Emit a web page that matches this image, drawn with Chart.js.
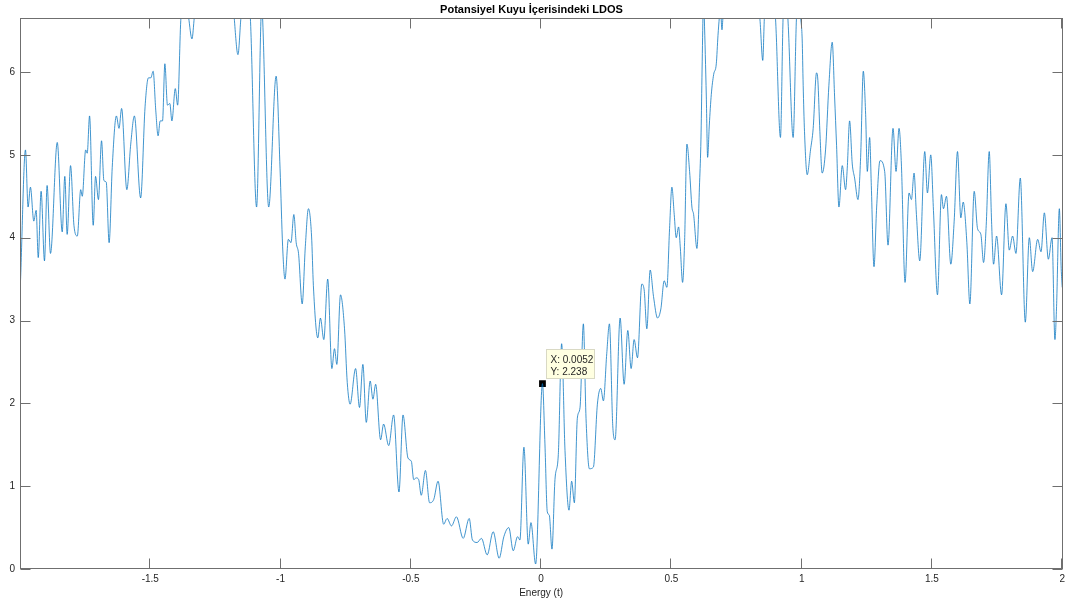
<!DOCTYPE html>
<html>
<head>
    <title>Potansiyel Kuyu İçerisindeki LDOS</title>
    <script src="https://cdn.jsdelivr.net/npm/chart.js"></script>
    <style>
        html, body { margin: 0; padding: 0; background: #fff; }
    </style>
</head>
<body>
    <canvas id="ldosChart" width="1069" height="606"></canvas>
    <script>
        // Energy (t) values
        const energy = [
            -1.998, -1.979, -1.969, -1.960, -1.947, -1.938, -1.930, -1.919, -1.906, -1.896,
            -1.883, -1.857, -1.838, -1.828, -1.819, -1.806, -1.793, -1.780, -1.767, -1.761,
            -1.748, -1.742, -1.733, -1.719, -1.710, -1.699, -1.687, -1.678, -1.669, -1.658,
            -1.646, -1.630, -1.620, -1.610, -1.590, -1.575, -1.561, -1.537, -1.520,
            -1.507, -1.498, -1.489, -1.479, -1.470, -1.462, -1.453, -1.444, -1.434, -1.425,
            -1.417, -1.404, -1.395, -1.383, -1.370, -1.353, -1.340, -1.331, -1.300, -1.250,
            -1.200, -1.178, -1.1635, -1.152, -1.134, -1.116, -1.092, -1.075, -1.072, -1.069,
            -1.0455, -1.017,
            -1.002, -0.992, -0.983, -0.970, -0.960, -0.949, -0.940, -0.931, -0.917, -0.905,
            -0.893, -0.881, -0.874, -0.857, -0.847, -0.834, -0.819, -0.803, -0.793, -0.784,
            -0.770, -0.7545, -0.744, -0.733, -0.712, -0.697, -0.684, -0.671, -0.656, -0.6455,
            -0.635, -0.616, -0.6045, -0.585, -0.566, -0.5455, -0.530, -0.511,
            -0.498, -0.489, -0.479, -0.470, -0.460, -0.444, -0.428, -0.412, -0.3955, -0.374,
            -0.361, -0.344, -0.325, -0.299, -0.276, -0.2635, -0.2455, -0.229, -0.207, -0.184,
            -0.161, -0.143, -0.124, -0.107, -0.0904, -0.0814, -0.066, -0.0494, -0.039, -0.021,
            0.0052,
            0.0147, 0.0237, 0.0314, 0.0417, 0.0532, 0.066, 0.0788, 0.0917, 0.107, 0.1173,
            0.1276, 0.139, 0.1494, 0.1622, 0.1724, 0.1853, 0.2006, 0.216, 0.2288, 0.2391,
            0.2519, 0.2622, 0.275, 0.284, 0.3032, 0.3186, 0.3327, 0.3455, 0.357, 0.3699,
            0.3865, 0.3955, 0.4058, 0.4186, 0.4314, 0.4468, 0.4596, 0.4724, 0.4827,
            0.493, 0.5019, 0.5109, 0.5186, 0.5276, 0.534, 0.543, 0.5506, 0.5596, 0.5699,
            0.5788, 0.5853, 0.598, 0.6083, 0.6135, 0.6173, 0.6212, 0.6237, 0.6263, 0.634,
            0.6391, 0.6455, 0.6532, 0.6622, 0.6724, 0.6788, 0.684, 0.6878, 0.6942, 0.698,
            0.740, 0.800, 0.8391, 0.8507, 0.857, 0.878, 0.8994, 0.9186, 0.9288, 0.936,
            0.9468, 0.9673, 0.9801, 0.988, 0.9955,
            1.0019, 1.0058, 1.0109, 1.0212, 1.034, 1.0442, 1.057, 1.0622, 1.0699, 1.0788,
            1.0917, 1.1045, 1.1173, 1.1263, 1.134, 1.143, 1.1558, 1.1686, 1.175, 1.184,
            1.1942, 1.2032, 1.216, 1.2263, 1.2365, 1.2455, 1.2519, 1.2609, 1.2673, 1.2776,
            1.2878, 1.3006, 1.3186, 1.3314, 1.3506, 1.3622, 1.3737, 1.3827, 1.3968, 1.4122,
            1.4212, 1.4314, 1.4404, 1.4532, 1.4724, 1.4827,
            1.4955, 1.5058, 1.5212, 1.5365, 1.5442, 1.5558, 1.5724, 1.5853, 1.5981, 1.6109,
            1.6199, 1.634, 1.6455, 1.6622, 1.675, 1.6878, 1.6981, 1.7083, 1.7199, 1.7288,
            1.7365, 1.7481, 1.7673, 1.784, 1.7968, 1.8096, 1.8224, 1.8391, 1.8583, 1.8737,
            1.8865, 1.9058, 1.9186, 1.9314, 1.9468, 1.9609, 1.972, 1.978, 1.989, 1.996, 2.0
        ];

        // LDOS values at those energies
        const ldos = [
            3.48, 5.06, 4.37, 4.61, 4.20, 4.33, 3.76, 4.56, 3.72, 4.63,
            3.81, 5.15, 4.07, 4.74, 4.04, 4.87, 4.15, 4.02, 4.58, 4.50,
            5.06, 5.02, 5.47, 4.15, 4.74, 4.46, 5.17, 4.69, 4.67, 3.94,
            4.85, 5.47, 5.32, 5.56, 4.58, 5.13, 5.47, 4.48, 5.58,
            5.93, 5.93, 6.01, 5.54, 5.23, 5.41, 5.41, 6.10, 5.60, 5.62,
            5.41, 5.80, 5.60, 6.62, 7.00, 6.66, 6.40, 6.66, 7.50, 7.20,
            7.60, 6.66, 6.21, 6.66, 7.20, 6.66, 4.37, 6.66, 6.80, 6.66,
            4.37, 5.95,
            4.84, 3.89, 3.50, 3.98, 3.94, 4.28, 3.94, 3.81, 3.20, 3.89,
            4.35, 4.02, 3.42, 2.79, 3.03, 2.77, 3.50, 2.42, 2.66, 2.47,
            3.31, 2.90, 2.25, 1.99, 2.42, 1.95, 2.47, 1.77, 2.27, 2.05,
            2.23, 1.56, 1.75, 1.49, 1.86, 0.93, 1.86, 1.34,
            1.30, 1.08, 1.10, 1.08, 0.89, 1.19, 0.80, 0.84, 1.06, 0.54,
            0.61, 0.52, 0.63, 0.37, 0.61, 0.35, 0.32, 0.37, 0.17, 0.45,
            0.13, 0.39, 0.50, 0.22, 0.39, 0.35, 1.47, 0.30, 0.56, 0.06,
            2.238,
            1.51, 0.69, 0.65, 0.24, 1.08, 1.38, 2.72, 1.43, 0.71, 1.06,
            0.80, 1.82, 1.95, 2.96, 1.82, 1.21, 1.23, 1.99, 2.18, 2.03,
            2.60, 2.96, 1.73, 1.56, 3.03, 2.23, 2.88, 2.42, 2.77, 2.55,
            3.44, 3.37, 2.90, 3.61, 3.29, 3.03, 3.14, 3.48, 3.40,
            4.11, 4.61, 4.28, 4.00, 4.13, 3.89, 3.46, 3.94, 5.13, 4.80,
            4.37, 4.28, 3.87, 4.67, 5.19, 5.93, 6.66, 6.90, 6.66, 5.71,
            4.97, 5.36, 5.73, 5.97, 6.10, 6.44, 6.66, 6.80, 6.51, 6.66,
            7.30, 7.00, 6.66, 6.14, 6.66, 7.10, 6.66, 5.21, 6.66, 6.90,
            6.66, 5.21, 6.66, 6.90, 6.66,
            6.40, 5.84, 5.28, 4.76, 5.06, 5.32, 5.99, 5.90, 5.28, 4.78,
            5.06, 5.84, 6.36, 5.71, 5.11, 4.37, 4.87, 4.58, 4.84, 5.41,
            4.89, 4.72, 4.46, 4.97, 6.01, 5.49, 4.80, 5.21, 4.63, 3.65,
            4.37, 4.93, 4.80, 3.91, 5.32, 4.80, 5.32, 4.89, 3.46, 4.54,
            4.46, 4.78, 4.28, 3.72, 5.04, 4.54,
            5.00, 4.33, 3.31, 4.52, 4.35, 4.50, 3.68, 4.20, 5.04, 4.24,
            4.43, 3.94, 3.20, 4.56, 4.11, 4.04, 3.70, 4.15, 5.04, 4.20,
            3.68, 4.02, 3.31, 4.41, 3.85, 4.02, 3.81, 4.72, 2.98, 4.00,
            3.59, 3.98, 3.83, 4.30, 3.74, 4.00, 2.77, 3.14, 4.35, 3.63, 3.40
        ];

        const xTicks = [-1.5, -1, -0.5, 0, 0.5, 1, 1.5, 2];
        const yTicks = [0, 1, 2, 3, 4, 5, 6];

        // data cursor
        const tipX = 0.0052;
        const tipY = 2.238;

        const font = 'Liberation Sans';
        const axisColor = '#6f6f6f';
        const tickLen = 10;

        // MATLAB-like box, inward ticks and the data tip
        const axesBox = {
            id: 'axesBox',
            afterDraw(chart) {
                const { ctx, chartArea: a, scales: { x, y } } = chart;
                ctx.save();
                ctx.strokeStyle = axisColor;
                ctx.lineWidth = 1;
                const L = Math.round(a.left) + 0.5, R = Math.round(a.right) + 0.5;
                const T = Math.round(a.top) + 0.5, B = Math.round(a.bottom) - 0.5;
                ctx.strokeRect(L, T, R - L, B - T);
                ctx.beginPath();
                xTicks.forEach(v => {
                    const px = Math.round(x.getPixelForValue(v)) - 0.5;
                    ctx.moveTo(px, B); ctx.lineTo(px, B - tickLen);
                    ctx.moveTo(px, T); ctx.lineTo(px, T + tickLen);
                });
                yTicks.forEach(v => {
                    const py = Math.round(y.getPixelForValue(v)) + 0.5;
                    ctx.moveTo(L, py); ctx.lineTo(L + tickLen, py);
                    ctx.moveTo(R, py); ctx.lineTo(R - tickLen, py);
                });
                ctx.stroke();

                // data tip box
                const mx = x.getPixelForValue(tipX);
                const my = y.getPixelForValue(tipY);
                const bx = Math.round(mx) + 4.5, by = Math.round(my) - 34.5;
                ctx.fillStyle = '#ffffe1';
                ctx.fillRect(bx, by, 48, 29);
                ctx.strokeStyle = '#d9d9c4';
                ctx.strokeRect(bx, by, 48, 29);
                ctx.fillStyle = '#262626';
                ctx.font = '10px "' + font + '"';
                ctx.textAlign = 'left';
                ctx.textBaseline = 'alphabetic';
                ctx.fillText('X: ' + tipX, bx + 4, by + 13);
                ctx.fillText('Y: ' + tipY, bx + 4, by + 25);
                ctx.restore();
            }
        };

        const ctx = document.getElementById('ldosChart').getContext('2d');
        const chart = new Chart(ctx, {
            type: 'line',
            data: {
                datasets: [{
                    label: 'LDOS',
                    data: energy.map((e, i) => ({ x: e, y: ldos[i] })),
                    borderColor: '#0072bd',
                    borderWidth: 0.75,
                    pointRadius: 0,
                    cubicInterpolationMode: 'monotone',
                    fill: false
                }, {
                    type: 'scatter',
                    label: 'tip',
                    data: [{ x: tipX, y: tipY }],
                    pointStyle: 'rect',
                    pointRadius: 4.8,
                    backgroundColor: '#000',
                    borderColor: '#000',
                    borderWidth: 0
                }]
            },
            options: {
                responsive: false,
                animation: false,
                layout: { padding: { left: 0, right: 6, top: 0, bottom: 7 } },
                plugins: {
                    legend: { display: false },
                    tooltip: { enabled: false },
                    title: {
                        display: true,
                        text: 'Potansiyel Kuyu İçerisindeki LDOS',
                        color: '#000',
                        font: { family: font, size: 11, weight: 'bold' },
                        padding: { top: 3, bottom: 2 }
                    }
                },
                scales: {
                    x: {
                        type: 'linear',
                        min: -2,
                        max: 2,
                        grid: { display: false, drawTicks: false },
                        border: { display: false },
                        afterBuildTicks: s => { s.ticks = xTicks.map(v => ({ value: v })); },
                        afterFit: s => { s.height = 30; },
                        ticks: {
                            callback: v => String(v),
                            padding: 4,
                            autoSkip: false,
                            maxRotation: 0,
                            color: '#262626',
                            font: { family: font, size: 10 }
                        },
                        title: {
                            display: true,
                            text: 'Energy (t)',
                            color: '#262626',
                            font: { family: font, size: 10 },
                            padding: { top: 0, bottom: 0 }
                        }
                    },
                    y: {
                        type: 'linear',
                        min: 0,
                        max: 6.65,
                        grid: { display: false, drawTicks: false },
                        border: { display: false },
                        afterBuildTicks: s => { s.ticks = yTicks.map(v => ({ value: v })); },
                        afterFit: s => { s.width = 20; },
                        ticks: {
                            callback: v => String(v),
                            padding: 5,
                            color: '#262626',
                            font: { family: font, size: 10 }
                        }
                    }
                }
            },
            plugins: [axesBox]
        });
    </script>
</body>
</html>
